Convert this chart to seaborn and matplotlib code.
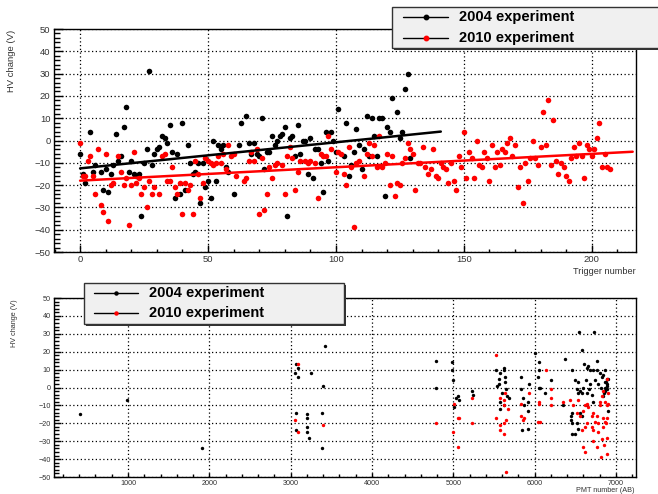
import numpy as np
import pandas as pd
import seaborn as sns
import matplotlib
matplotlib.use("Agg")
import matplotlib.pyplot as plt
from matplotlib.patches import Rectangle
from matplotlib.lines import Line2D
from matplotlib.ticker import MultipleLocator

# ---------------- data ----------------
trig_2004 = [0, 1, 2, 4, 5, 6, 8, 9, 10, 11, 12, 13, 14, 15, 16, 17, 18, 19, 20, 21, 22, 23, 24, 25, 26, 27,
             28, 29, 30, 31, 32, 33, 34, 35, 36, 37, 38, 39, 40, 41, 42, 43, 44, 45, 46, 47, 48, 49, 50, 51,
             52, 53, 54, 55, 56, 57, 58, 60, 62, 63, 65, 66, 67, 68, 69, 70, 71, 72, 73, 74, 75, 76, 77, 78,
             79, 80, 81, 82, 83, 84, 85, 86, 87, 88, 89, 90, 91, 92, 93, 94, 95, 96, 97, 98, 99, 100, 101,
             103, 104, 105, 106, 107, 108, 109, 110, 111, 112, 113, 114, 115, 116, 117, 118, 119, 120, 121,
             122, 124, 125, 126, 127, 128, 129]
hv_2004 = [-6, -15, -19, 4, -14, -11, -14, -22, -13, -23, -15, -11, 3, -9, -7, 6, 15, -14, -9, -15, -16, -15,
           -34, -10, -4, 31, -11, -6, -4, -3, 2, 1, -1, 7, -5, -26, -6, -24, 8, -22, -2, -10, -15, -14, -10,
           -28, -10, -21, -18, -26, 0, -18, -2, -4, -2, -12, -14, -24, -2, 8, 11, -1, -6, -1, -6, -7, 10, -13,
           -5, -5, 2, -2, 0, 2, 3, 6, -34, 1, 2, -7, 7, -6, 0, 0, -15, 1, -17, -4, -4, -10, -23, 4, -9, 4, 0,
           -5, 14, -7, 8, -16, -11, -5, 5, -2, -13, -4, 11, -7, 10, 2, -7, 10, 10, -25, 6, 4, 19, 13, 1, 4,
           23, 30, -8]

trig_2010 = [0, 1, 2, 3, 4, 5, 6, 7, 8, 9, 10, 11, 12, 13, 15, 16, 17, 18, 19, 20, 21, 22, 23, 24, 25, 26, 27,
             28, 29, 31, 32, 33, 34, 35, 36, 37, 38, 39, 40, 41, 42, 43, 44, 45, 46, 47, 48, 49, 50, 51, 52,
             53, 54, 55, 56, 57, 58, 59, 60, 61, 64, 65, 66, 67, 68, 69, 70, 71, 72, 73, 74, 75, 76, 77, 79,
             80, 81, 82, 83, 84, 85, 86, 88, 89, 90, 92, 93, 94, 95, 96, 97, 98, 100, 101, 102, 103, 104,
             105, 106, 107, 108, 109, 111, 112, 113, 114, 115, 116, 117, 118, 119, 120, 121, 122, 123, 124,
             125, 126, 127, 128, 129, 130, 131, 132, 133, 134, 135, 136, 137, 138, 139, 140, 141, 142, 143,
             144, 145, 146, 147, 148, 149, 150, 151, 152, 153, 154, 155, 156, 157, 158, 159, 160, 161, 162,
             163, 164, 165, 166, 167, 168, 169, 170, 171, 172, 173, 174, 175, 176, 177, 178, 179, 180, 181,
             182, 183, 184, 185, 186, 187, 188, 189, 190, 191, 192, 193, 194, 195, 196, 197, 198, 199, 200,
             201, 202, 203, 204, 205, 206, 207]
hv_2010 = [-1, -16, -16, -9, -7, -16, -24, -4, -29, -32, -6, -36, -20, -19, -7, -14, -20, -17, -38, -20, -5,
           -19, -17, -24, -21, -30, -18, -24, -21, -24, -7, -6, -18, -18, -12, -21, -24, -19, -33, -19, -22,
           -20, -33, -9, -15, -26, -19, -8, -9, -10, -11, -10, -7, -10, -6, -13, -2, -7, -6, -16, -18, -17,
           -9, -5, -9, -4, -33, -8, -31, -24, -12, -17, -11, -10, -11, -24, -7, -3, -8, -22, -14, -9, -9,
           -10, -9, -10, -26, -6, -7, -7, 2, -4, -14, -5, -6, -15, -20, -3, -12, -39, -10, -9, -16, -6, -1,
           -7, -2, -12, 2, -12, -10, -6, -20, -7, -25, -19, -20, -10, -8, -1, -4, -6, -22, -10, -10, -3,
           -12, -15, -13, -4, -16, -17, -10, -12, -13, -19, -10, -18, -22, -7, -12, 4, -17, -5, -8, -17, 0,
           -11, -12, -5, -8, -18, -2, -12, -5, -11, -4, -5, -1, 1, -7, -2, -21, -12, -28, -10, -18, -8, 0,
           -8, -11, -3, 13, -2, 18, -11, 9, -9, -15, -10, -12, -16, -18, -8, -3, -7, -1, -7, -17, -2, -4,
           -7, -4, 1, 8, -12, -6, -12, -13]

# linear fits: (intercept, slope, x_start, x_end)
fit_2004 = (-12.5, 0.117, 0, 141)
fit_2010 = (-18.0, 0.060, 0, 216)

pmt_2004 = [410, 984, 1914, 3066, 3057, 3094, 3086, 3066, 3066, 3197, 3205, 3197, 3205, 3225, 3246, 3381,
            3389, 3402, 3418, 4786, 4786, 4986, 4986, 4995, 5011, 5036, 5060, 5069, 5228, 5237, 5523, 5531,
            5556, 5576, 5564, 5597, 5629, 5629, 5638, 5638, 5646, 5658, 5679, 5576, 5576, 5629, 5834, 5826,
            5855, 5875, 5916, 5924, 5932, 5850, 5924, 6010, 6055, 6051, 6047, 6055, 6067, 6128, 6206, 6374,
            6464, 6345, 6452, 6452, 6464, 6497, 6497, 6538, 6550, 6583, 6608, 6640, 6681, 6730, 6661, 6763,
            6771, 6804, 6824, 6845, 6865, 6885, 6898, 6632, 6722, 6742, 6783, 6816, 6599, 6558, 6517, 6538,
            6579, 6640, 6673, 6702, 6558, 6579, 6517, 6538, 6640, 6722, 6836, 6906, 6681, 6865, 6885, 6870,
            6880, 6890, 6860, 6895, 6850, 6455, 6455]
pmt_hv_2004 = [-15, -7, -34, 13, 8, 11, 6, -14, -24, -17, -15, -22, -25, -28, 8, -14, -34, 1, 23, 15, 0, 14,
               10, 4, -11, -6, -5, -7, -2, -4, 10, 1, 5, 8, 2, -3, 11, 10, 6, 3, -1, -5, -6, -12, -8, -10, 6,
               -1, -6, -10, -8, -13, 2, -24, -23, 19, 14, 10, 6, 0, 0, -3, 4, 16, 10, -10, -16, -18, -26,
               -26, 4, 3, 31, 21, 13, 11, 10, 31, 12, 15, 10, 8, 6, 7, 3, 1, 5, 4, 10, 4, 2, 0, 0, -2, -1,
               -3, -3, -3, -1, -4, -14, -16, -20, -23, -10, -8, -5, -13, 2, 10, 5, 0, 3, -1, -2, 2, -3, -14,
               -20]

pmt_2010 = [3086, 3057, 3094, 3402, 5523, 5003, 4990, 5052, 5069, 5052, 5228, 5228, 4786, 5523, 5568, 5576,
            5617, 5629, 5638, 5646, 5629, 5670, 5576, 5629, 5650, 5834, 5838, 5863, 5855, 5928, 6051, 6059,
            6047, 6067, 6137, 6206, 6206, 6206, 6345, 6436, 6477, 6538, 6517, 6558, 6599, 6620, 6640, 6661,
            6579, 6599, 6620, 6640, 6620, 6702, 6722, 6742, 6763, 6783, 6722, 6763, 6804, 6824, 6845, 6865,
            6885, 6894, 6906, 6836, 6865, 6885, 6845, 6877, 6885, 6857, 6824, 6812, 6885, 6702, 6714, 6783,
            6804, 6906]
pmt_hv_2010 = [13, -18, -25, -21, 18, -9, -25, -17, -17, -33, -6, -20, -20, -17, -24, -6, -7, -10, -3, -18,
               -20, -12, -21, -26, -47, -9, -16, -17, -18, -3, -9, -8, -19, -19, 10, -1, -6, -10, -8, -7, -10,
               -7, -14, -16, -13, -10, -9, -11, -24, -33, -36, -20, -22, -16, -14, -19, -16, -20, -30, -33,
               -10, -5, -2, -8, -10, 5, -3, -17, -19, -17, -22, -20, -28, -32, -29, -39, -37, -22, -24, -25,
               -8, -9]

legend_labels = ["2004 experiment", "2010 experiment"]
y_label = "HV change (V)"
x_label_top = "Trigger number"
x_label_bottom = "PMT number (AB)"

# ---------------- figure ----------------
sns.set_theme(style="white")
plt.rcParams["font.family"] = ["Liberation Sans", "DejaVu Sans"]

W, H = 658, 494
fig = plt.figure(figsize=(W / 100, H / 100), dpi=100)
fig.patch.set_facecolor("white")


def fx(x):
    return x / W


def fy(y):
    return 1 - y / H


def ax_rect(l, t, r, b):
    return [fx(l), fy(b), fx(r) - fx(l), fy(t) - fy(b)]


ax1 = fig.add_axes(ax_rect(54, 29, 636, 252))
ax2 = fig.add_axes(ax_rect(54, 298, 636, 477))

df_top_04 = pd.DataFrame({"x": trig_2004, "y": hv_2004})
df_top_10 = pd.DataFrame({"x": trig_2010, "y": hv_2010})
df_bot_04 = pd.DataFrame({"x": pmt_2004, "y": pmt_hv_2004})
df_bot_10 = pd.DataFrame({"x": pmt_2010, "y": pmt_hv_2010})


def style_axis(ax, xmaj, xmin, ylen_major, ylen_minor, xlen_major, xlen_minor, fs, pad):
    ax.set_ylim(-50, 50)
    ax.yaxis.set_major_locator(MultipleLocator(10))
    ax.yaxis.set_minor_locator(MultipleLocator(2))
    ax.xaxis.set_major_locator(MultipleLocator(xmaj))
    ax.xaxis.set_minor_locator(MultipleLocator(xmin))
    ax.tick_params(axis="y", which="major", direction="in", length=ylen_major, width=1,
                   color="black", labelsize=fs, labelcolor="#333333", pad=pad, left=True, right=False)
    ax.tick_params(axis="y", which="minor", direction="in", length=ylen_minor, width=1,
                   color="black", left=True, right=False)
    ax.tick_params(axis="x", which="major", direction="in", length=xlen_major, width=1,
                   color="black", labelsize=fs, labelcolor="#333333", pad=pad, bottom=True, top=False)
    ax.tick_params(axis="x", which="minor", direction="in", length=xlen_minor, width=1,
                   color="black", bottom=True, top=False)
    ax.grid(True, which="major", color="black", linestyle=(0, (1, 2)), linewidth=0.9)
    ax.grid(False, which="minor")
    for sp in ax.spines.values():
        sp.set_color("black")
        sp.set_linewidth(1.0)
        sp.set_visible(True)
    ax.set_xlabel("")
    ax.set_ylabel("")
    ax.set_facecolor("white")


# ---- top panel ----
sns.scatterplot(data=df_top_04, x="x", y="y", color="black", s=16, linewidth=0, ax=ax1, zorder=3)
sns.scatterplot(data=df_top_10, x="x", y="y", color="#ff0000", s=16, linewidth=0, ax=ax1, zorder=3)
for (b0, b1, xs, xe), col in [(fit_2004, "black"), (fit_2010, "#ff0000")]:
    xx = np.array([xs, xe], dtype=float)
    sns.lineplot(x=xx, y=b0 + b1 * xx, color=col, linewidth=1.8, ax=ax1, zorder=4)
ax1.set_xlim(-10.2, 217.3)
style_axis(ax1, 50, 10, 6.5, 4.5, 5, 2.5, 6.8, 2.5)

# ---- bottom panel ----
sns.scatterplot(data=df_bot_04, x="x", y="y", color="black", s=6, linewidth=0, ax=ax2, zorder=3)
sns.scatterplot(data=df_bot_10, x="x", y="y", color="#ff0000", s=6, linewidth=0, ax=ax2, zorder=3)
ax2.set_xlim(90, 7246)
style_axis(ax2, 1000, 200, 5, 3.5, 3, 2, 5.2, 2.5)

# axis titles
fig.text(fx(12), fy(30), y_label, rotation=90, ha="center", va="top", fontsize=6.8, color="#333333")
fig.text(fx(636), fy(271), x_label_top, ha="right", va="center", fontsize=6.6, color="#333333")
fig.text(fx(14), fy(299), y_label, rotation=90, ha="center", va="top", fontsize=5.2, color="#333333")
fig.text(fx(635), fy(490), x_label_bottom, ha="right", va="center", fontsize=5.2, color="#333333")


# ---- legends (ROOT-style boxes) ----
def draw_legend(l, t, r, b, line_x0, line_x1, rows_y, text_x, msize):
    shadow = Rectangle((fx(l + 2), fy(b + 2)), fx(r) - fx(l), fy(t) - fy(b), transform=fig.transFigure,
                       facecolor="#333333", edgecolor="none", zorder=9)
    box = Rectangle((fx(l), fy(b)), fx(r) - fx(l), fy(t) - fy(b), transform=fig.transFigure,
                    facecolor="#f0f0f0", edgecolor="#333333", linewidth=1.0, zorder=10)
    fig.add_artist(shadow)
    fig.add_artist(box)
    for label, col, yy in zip(legend_labels, ["black", "#ff0000"], rows_y):
        fig.add_artist(Line2D([fx(line_x0), fx(line_x1)], [fy(yy), fy(yy)], transform=fig.transFigure,
                              color="black", linewidth=1.0, zorder=11))
        fig.add_artist(Line2D([fx((line_x0 + line_x1) / 2)], [fy(yy)], transform=fig.transFigure,
                              marker="o", markersize=msize, markerfacecolor=col, markeredgecolor=col,
                              linestyle="none", zorder=12))
        fig.text(fx(text_x), fy(yy), label, ha="left", va="center", fontsize=10.5, fontweight="bold",
                 color="black", zorder=12)


draw_legend(392, 7, 662, 48, 403, 448, [17, 38], 459, 3.2)
draw_legend(84, 283, 344, 324, 94, 138, [293, 313], 149, 2.2)

fig.savefig("out.png", dpi=100, facecolor="white")
